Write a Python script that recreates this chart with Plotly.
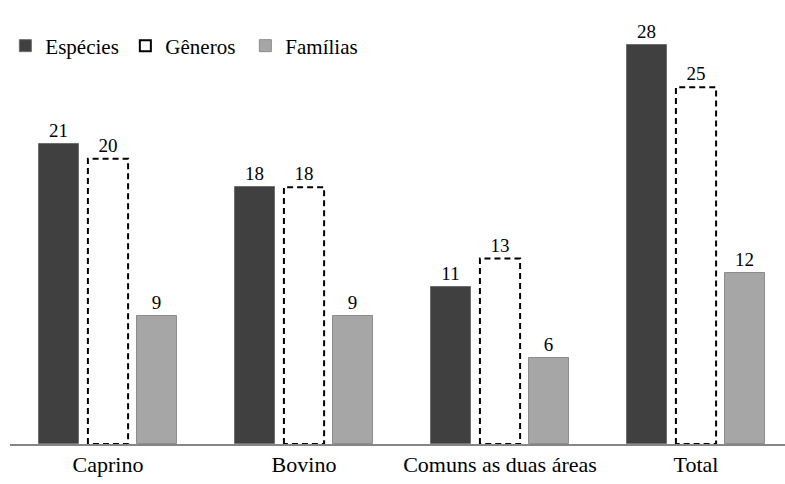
import plotly.graph_objects as go

categories = ["Caprino", "Bovino", "Comuns as duas áreas", "Total"]
especies = [21, 18, 11, 28]
generos = [20, 18, 13, 25]
familias = [9, 9, 6, 12]

FONT = "'Liberation Serif', 'Times New Roman', Tinos, serif"
BW = 0.205  # bar width in category units
SLOT = 0.25

xs = list(range(len(categories)))

fig = go.Figure()
fig.add_trace(go.Bar(
    x=xs, y=especies, name="Espécies", width=BW, offset=-SLOT - BW / 2,
    marker=dict(color="#404040", line=dict(color="#6e6e6e", width=1)),
    text=especies, textposition="outside", cliponaxis=False, legendrank=1,
    textfont=dict(family=FONT, size=19, color="black"),
))
fig.add_trace(go.Bar(
    x=xs, y=generos, name="Gêneros", width=BW, offset=-BW / 2,
    marker=dict(color="white", line=dict(width=0)), showlegend=False,
    text=generos, textposition="outside", cliponaxis=False,
    textfont=dict(family=FONT, size=19, color="black"),
))
# dashed outline of Gêneros bars, derived from the data
ox, oy = [], []
for x, v in zip(xs, generos):
    ox += [x - BW / 2, x - BW / 2, x + BW / 2, x + BW / 2, x - BW / 2, None]
    oy += [0, v, v, 0, 0, None]
fig.add_trace(go.Scatter(
    x=ox, y=oy, mode="lines", showlegend=False, hoverinfo="skip",
    line=dict(color="black", width=2, dash="6px,4px"),
))
fig.add_trace(go.Bar(
    x=xs, y=familias, name="Famílias", width=BW, offset=SLOT - BW / 2,
    marker=dict(color="#a6a6a6", line=dict(color="#8c8c8c", width=1)),
    text=familias, textposition="outside", cliponaxis=False, legendrank=3,
    textfont=dict(family=FONT, size=19, color="black"),
))
# legend-only entry for Gêneros
fig.add_trace(go.Scatter(
    x=[None], y=[None], mode="markers", name="Gêneros", legendrank=2,
    marker=dict(symbol="square-open", size=11, color="black", line=dict(width=2)),
))

fig.update_layout(
    width=785, height=484,
    margin=dict(l=10, r=0, t=16, b=40),
    paper_bgcolor="white", plot_bgcolor="white",
    barmode="overlay",
    font=dict(family=FONT, size=20, color="black"),
    legend=dict(
        orientation="h", x=-0.006, xanchor="left", xref="paper",
        y=398 / 428, yanchor="middle", yref="paper",
        font=dict(family=FONT, size=21, color="black"),
        entrywidth=75, entrywidthmode="pixels", itemwidth=30,
        bgcolor="rgba(0,0,0,0)",
    ),
    xaxis=dict(
        tickvals=xs, ticktext=categories, range=[-0.5, 3.454],
        showline=True, linecolor="#868686", linewidth=1.5,
        showgrid=False, zeroline=False, ticks="",
        tickfont=dict(family=FONT, size=22, color="black"),
    ),
    yaxis=dict(range=[0, 30], visible=False),
    bargap=0,
)
fig.write_html("out.html")
